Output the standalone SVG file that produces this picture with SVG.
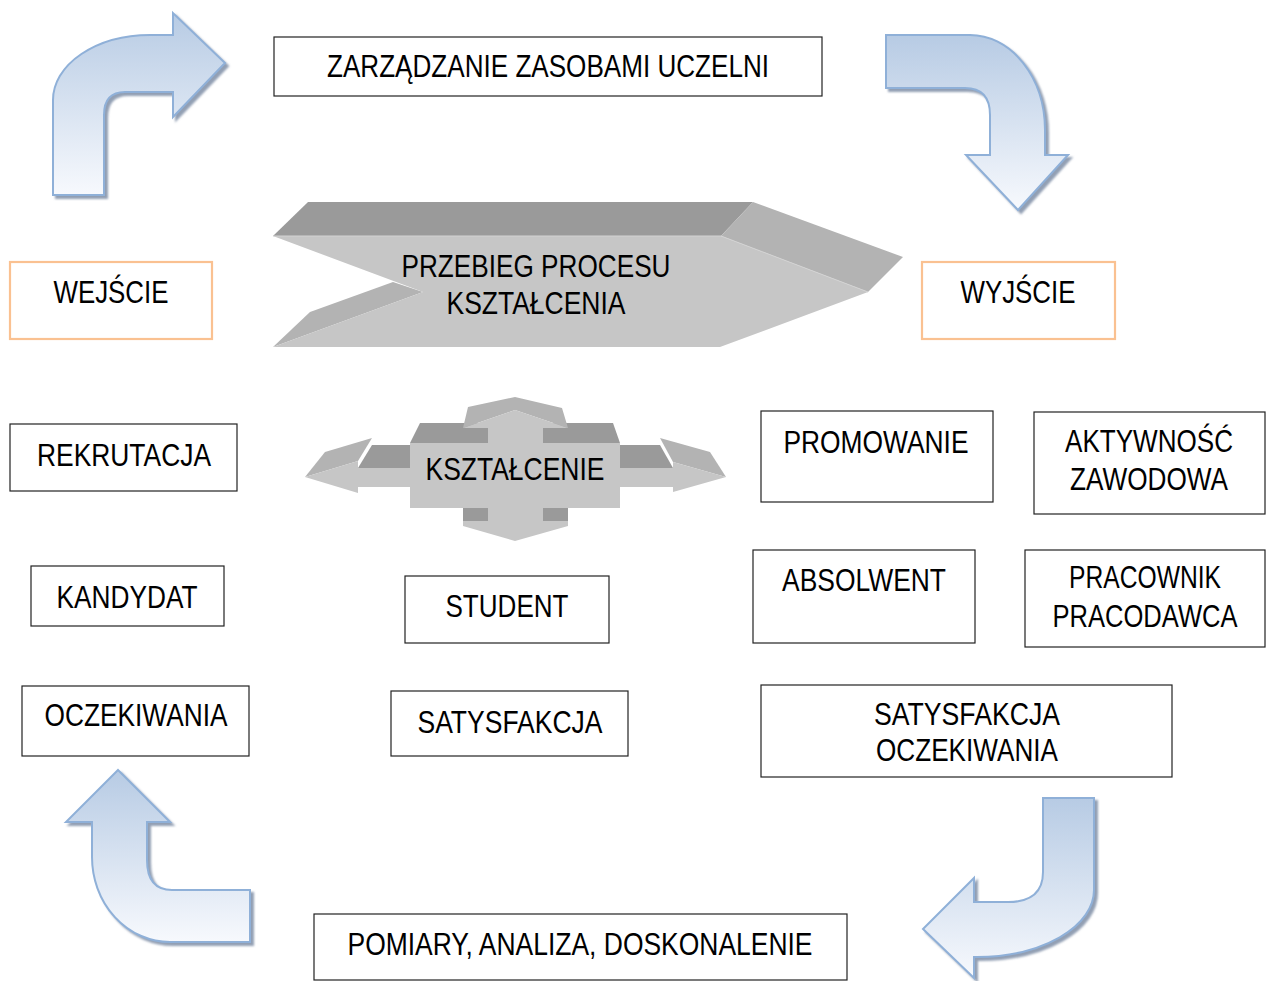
<svg xmlns="http://www.w3.org/2000/svg" width="1268" height="981" viewBox="0 0 1268 981">
<defs>
<linearGradient id="blueGrad" x1="0" y1="0" x2="0" y2="1">
<stop offset="0" stop-color="#b7cbe4"/>
<stop offset="1" stop-color="#f7f9fd"/>
</linearGradient>
<filter id="shadow" x="-10%" y="-10%" width="125%" height="125%">
<feDropShadow dx="3" dy="3" stdDeviation="0.8" flood-color="#7f8ea6" flood-opacity="0.85"/>
</filter>
<style>
.box{fill:#ffffff;stroke:#222222;stroke-width:1.2}
.obox{fill:#ffffff;stroke:#fac191;stroke-width:2.2}
.t{font-family:"Liberation Sans Narrow","Liberation Sans",Arial,sans-serif;font-size:31px;fill:#000000;text-anchor:middle}
.barrow{fill:url(#blueGrad);stroke:#8fb0d8;stroke-width:2;filter:url(#shadow)}
.front{fill:#c6c6c6}
.dark{fill:#9a9a9a}
.mid{fill:#b3b3b3}
</style>
</defs>
<rect width="1268" height="981" fill="#ffffff"/>

<g id="connectors">
<path class="barrow" d="M53,195 L53,100 A97,65 0 0 1 150,35 L173,35 L173,13 L225,63 L173,117 L173,92 L125,92 Q104,92 104,115 L104,195 Z"/>
<path class="barrow" d="M886,35 L970,35 A75,95 0 0 1 1045,130 L1045,155 L1068,155 L1018,210 L966,155 L990,155 L990,115 Q990,88 965,88 L886,88 Z"/>
<path class="barrow" d="M1043,798 L1094,798 L1094,890 A117,67 0 0 1 977,957 L974,957 L974,978 L923,929 L974,878 L974,902 L1008,902 Q1043,902 1043,872 Z"/>
<path class="barrow" d="M118,770 L170,822 L147,822 L147,860 Q147,890 172,890 L250,890 L250,942 L170,942 A78,85 0 0 1 92,857 L92,822 L66,822 Z"/>
</g>

<g id="zarzadzanie">
<rect class="box" x="274" y="37" width="548" height="59"/>
<text class="t" x="548" y="77" textLength="442" lengthAdjust="spacingAndGlyphs">ZARZĄDZANIE ZASOBAMI UCZELNI</text>
</g>

<g id="przebieg">
<polygon class="dark" points="308,202 753,202 721,236 273,236"/>
<polygon class="mid" points="753,202 903,257 868,292 721,236"/>
<polygon class="mid" points="273,347 310,312 393,282 423,292"/>
<polygon class="front" points="273,236 721,236 868,292 720,347 273,347 423,292"/>
<polyline points="273,236 721,236 868,292" fill="none" stroke="#d2d2d2" stroke-width="1"/>
<text class="t" x="536" y="277" font-size="33" textLength="269" lengthAdjust="spacingAndGlyphs">PRZEBIEG PROCESU</text>
<text class="t" x="536" y="314" font-size="33" textLength="179" lengthAdjust="spacingAndGlyphs">KSZTAŁCENIA</text>
</g>

<g id="wejscie">
<rect class="obox" x="10" y="262" width="202" height="77"/>
<text class="t" x="111" y="303" textLength="115" lengthAdjust="spacingAndGlyphs">WEJŚCIE</text>
</g>

<g id="wyjscie">
<rect class="obox" x="922" y="262" width="193" height="77"/>
<text class="t" x="1018" y="303" textLength="115" lengthAdjust="spacingAndGlyphs">WYJŚCIE</text>
</g>

<g id="ksztalcenie">
<polygon class="mid" points="305,477 325,452 372,438 358,461"/>
<polygon class="dark" points="358,468 372,445 410,445 410,468"/>
<polygon class="dark" points="410,443 420,423 488,423 488,443"/>
<polygon class="dark" points="543,443 543,423 613,423 620,443"/>
<polygon class="mid" points="463,428 468,407 515,397 562,408 568,428 515,410"/>
<polygon class="dark" points="620,445 660,445 673,468 620,468"/>
<polygon class="mid" points="673,462 660,438 710,452 726,477"/>
<polygon class="dark" points="463,508 488,508 488,521 463,521"/>
<polygon class="dark" points="543,508 568,508 568,521 543,521"/>
<polygon class="front" points="305,477 358,461 358,468 410,468 410,443 488,443 488,428 463,428 515,410 568,428 543,428 543,443 620,443 620,468 673,468 673,462 726,477 673,492 673,487 620,487 620,508 543,508 543,521 568,521 568,526 515,541 463,526 463,521 488,521 488,508 410,508 410,487 358,487 358,493"/>
<text class="t" x="515" y="480" textLength="179" lengthAdjust="spacingAndGlyphs">KSZTAŁCENIE</text>
</g>

<g id="rekrutacja">
<rect class="box" x="10" y="424" width="227" height="67"/>
<text class="t" x="124" y="466" textLength="174" lengthAdjust="spacingAndGlyphs">REKRUTACJA</text>
</g>

<g id="promowanie">
<rect class="box" x="761" y="411" width="232" height="91"/>
<text class="t" x="876" y="453" textLength="185" lengthAdjust="spacingAndGlyphs">PROMOWANIE</text>
</g>

<g id="aktywnosc">
<rect class="box" x="1034" y="412" width="231" height="102"/>
<text class="t" x="1149" y="452" textLength="168" lengthAdjust="spacingAndGlyphs">AKTYWNOŚĆ</text>
<text class="t" x="1149" y="490" textLength="158" lengthAdjust="spacingAndGlyphs">ZAWODOWA</text>
</g>

<g id="kandydat">
<rect class="box" x="31" y="566" width="193" height="60"/>
<text class="t" x="127" y="608" textLength="141" lengthAdjust="spacingAndGlyphs">KANDYDAT</text>
</g>

<g id="student">
<rect class="box" x="405" y="576" width="204" height="67"/>
<text class="t" x="507" y="617" textLength="123" lengthAdjust="spacingAndGlyphs">STUDENT</text>
</g>

<g id="absolwent">
<rect class="box" x="753" y="550" width="222" height="93"/>
<text class="t" x="864" y="591" textLength="164" lengthAdjust="spacingAndGlyphs">ABSOLWENT</text>
</g>

<g id="pracownik">
<rect class="box" x="1025" y="550" width="240" height="97"/>
<text class="t" x="1145" y="588" textLength="152" lengthAdjust="spacingAndGlyphs">PRACOWNIK</text>
<text class="t" x="1145" y="627" font-size="30" textLength="185" lengthAdjust="spacingAndGlyphs">PRACODAWCA</text>
</g>

<g id="oczekiwania">
<rect class="box" x="22" y="686" width="227" height="70"/>
<text class="t" x="136" y="726" textLength="183" lengthAdjust="spacingAndGlyphs">OCZEKIWANIA</text>
</g>

<g id="satysfakcja">
<rect class="box" x="391" y="691" width="237" height="65"/>
<text class="t" x="510" y="733" textLength="185" lengthAdjust="spacingAndGlyphs">SATYSFAKCJA</text>
</g>

<g id="satysfakcja-oczekiwania">
<rect class="box" x="761" y="685" width="411" height="92"/>
<text class="t" x="967" y="725" textLength="186" lengthAdjust="spacingAndGlyphs">SATYSFAKCJA</text>
<text class="t" x="967" y="761" textLength="182" lengthAdjust="spacingAndGlyphs">OCZEKIWANIA</text>
</g>

<g id="pomiary">
<rect class="box" x="314" y="914" width="533" height="66"/>
<text class="t" x="580" y="955" textLength="465" lengthAdjust="spacingAndGlyphs">POMIARY, ANALIZA, DOSKONALENIE</text>
</g>
</svg>
